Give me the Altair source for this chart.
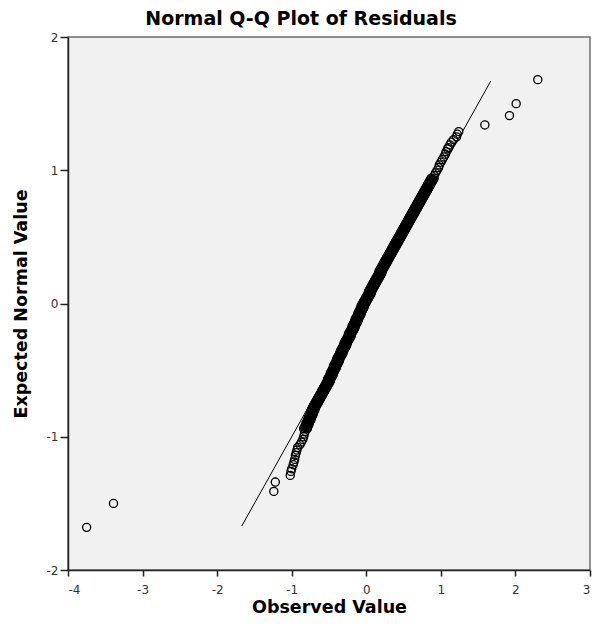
import altair as alt
import pandas as pd

# ---- values ----
# (observed residual value, expected normal value)

# isolated points at both ends
tail_low_obs = [-3.75, -3.39, -1.24, -1.22]
tail_low_exp = [-1.68, -1.50, -1.41, -1.34]
tail_high_obs = [1.59, 1.92, 2.01, 2.30]
tail_high_exp = [1.34, 1.41, 1.50, 1.68]

# ring-textured lower run
lower_obs = [-1.02, -1.01, -1.00, -0.98, -0.97, -0.96, -0.95, -0.94, -0.93, -0.92,
             -0.89, -0.87, -0.85, -0.84, -0.83, -0.82]
lower_exp = [-1.29, -1.26, -1.24, -1.21, -1.19, -1.17, -1.14, -1.12, -1.10, -1.08,
             -1.06, -1.04, -1.02, -1.00, -0.98, -0.96]

# ring-textured upper run
upper_obs = [0.91, 0.93, 0.95, 0.97, 0.98, 1.00, 1.02, 1.04, 1.06, 1.07,
             1.09, 1.10, 1.12, 1.14, 1.17, 1.21, 1.22, 1.24]
upper_exp = [0.96, 0.98, 1.00, 1.02, 1.04, 1.06, 1.08, 1.10, 1.12, 1.14,
             1.16, 1.17, 1.19, 1.21, 1.23, 1.25, 1.27, 1.29]

# dense solid band: expected values, with observed values on its left and right edge
band_exp = [-0.94, -0.93, -0.92, -0.91, -0.90, -0.89, -0.88, -0.87, -0.86, -0.85,
            -0.84, -0.83, -0.82, -0.81, -0.80, -0.79, -0.78, -0.77, -0.76, -0.75,
            -0.74, -0.73, -0.72, -0.71, -0.70, -0.69, -0.68, -0.67, -0.66, -0.65,
            -0.64, -0.63, -0.62, -0.61, -0.60, -0.59, -0.58, -0.57, -0.56, -0.55,
            -0.54, -0.53, -0.52, -0.51, -0.50, -0.49, -0.48, -0.47, -0.46, -0.45,
            -0.44, -0.43, -0.42, -0.41, -0.40, -0.39, -0.38, -0.37, -0.36, -0.35,
            -0.34, -0.33, -0.32, -0.31, -0.30, -0.29, -0.28, -0.27, -0.26, -0.25,
            -0.24, -0.23, -0.22, -0.21, -0.20, -0.19, -0.18, -0.17, -0.16, -0.15,
            -0.14, -0.13, -0.12, -0.11, -0.10, -0.09, -0.08, -0.07, -0.06, -0.05,
            -0.04, -0.03, -0.02, -0.01, 0.00, 0.01, 0.02, 0.03, 0.04, 0.05,
            0.06, 0.07, 0.08, 0.09, 0.10, 0.11, 0.12, 0.13, 0.14, 0.15,
            0.16, 0.17, 0.18, 0.19, 0.20, 0.21, 0.22, 0.23, 0.24, 0.25,
            0.26, 0.27, 0.28, 0.29, 0.30, 0.31, 0.32, 0.33, 0.34, 0.35,
            0.36, 0.37, 0.38, 0.39, 0.40, 0.41, 0.42, 0.43, 0.44, 0.45,
            0.46, 0.47, 0.48, 0.49, 0.50, 0.51, 0.52, 0.53, 0.54, 0.55,
            0.56, 0.57, 0.58, 0.59, 0.60, 0.61, 0.62, 0.63, 0.64, 0.65,
            0.66, 0.67, 0.68, 0.69, 0.70, 0.71, 0.72, 0.73, 0.74, 0.75,
            0.76, 0.77, 0.78, 0.79, 0.80, 0.81, 0.82, 0.83, 0.84, 0.85,
            0.86, 0.87, 0.88, 0.89, 0.90, 0.91, 0.92, 0.93, 0.94]
band_left_obs = [-0.84, -0.83, -0.82, -0.81, -0.81, -0.80, -0.79, -0.78, -0.78, -0.77,
                 -0.76, -0.75, -0.75, -0.74, -0.73, -0.73, -0.72, -0.71, -0.70, -0.69,
                 -0.68, -0.67, -0.66, -0.65, -0.64, -0.63, -0.62, -0.61, -0.60, -0.59,
                 -0.58, -0.57, -0.56, -0.55, -0.54, -0.53, -0.52, -0.52, -0.51, -0.50,
                 -0.49, -0.48, -0.48, -0.47, -0.46, -0.45, -0.44, -0.44, -0.43, -0.42,
                 -0.41, -0.40, -0.40, -0.39, -0.38, -0.37, -0.36, -0.35, -0.35, -0.34,
                 -0.33, -0.32, -0.31, -0.30, -0.30, -0.29, -0.28, -0.27, -0.26, -0.25,
                 -0.24, -0.24, -0.23, -0.22, -0.21, -0.20, -0.19, -0.19, -0.18, -0.17,
                 -0.16, -0.15, -0.15, -0.14, -0.13, -0.12, -0.11, -0.11, -0.10, -0.09,
                 -0.08, -0.07, -0.07, -0.06, -0.05, -0.04, -0.03, -0.02, -0.01, 0.00,
                 0.01, 0.02, 0.03, 0.03, 0.04, 0.05, 0.06, 0.07, 0.08, 0.09,
                 0.10, 0.11, 0.12, 0.13, 0.14, 0.15, 0.16, 0.17, 0.17, 0.18,
                 0.19, 0.20, 0.21, 0.22, 0.23, 0.24, 0.25, 0.26, 0.27, 0.28,
                 0.29, 0.30, 0.31, 0.32, 0.33, 0.34, 0.35, 0.36, 0.37, 0.38,
                 0.39, 0.40, 0.41, 0.42, 0.43, 0.44, 0.45, 0.46, 0.47, 0.48,
                 0.49, 0.50, 0.51, 0.52, 0.53, 0.54, 0.55, 0.56, 0.57, 0.58,
                 0.59, 0.60, 0.61, 0.62, 0.63, 0.64, 0.65, 0.66, 0.67, 0.68,
                 0.69, 0.70, 0.71, 0.72, 0.73, 0.74, 0.75, 0.76, 0.77, 0.78,
                 0.79, 0.80, 0.81, 0.82, 0.83, 0.84, 0.85, 0.86, 0.87]
band_right_obs = [-0.79, -0.79, -0.78, -0.77, -0.77, -0.76, -0.75, -0.74, -0.74, -0.73,
                  -0.72, -0.71, -0.71, -0.70, -0.69, -0.69, -0.68, -0.67, -0.66, -0.65,
                  -0.64, -0.63, -0.62, -0.61, -0.60, -0.59, -0.58, -0.57, -0.56, -0.55,
                  -0.54, -0.53, -0.52, -0.51, -0.50, -0.49, -0.48, -0.48, -0.47, -0.46,
                  -0.45, -0.44, -0.44, -0.43, -0.42, -0.41, -0.40, -0.40, -0.39, -0.38,
                  -0.37, -0.36, -0.36, -0.35, -0.34, -0.33, -0.32, -0.31, -0.31, -0.30,
                  -0.29, -0.28, -0.27, -0.26, -0.26, -0.25, -0.24, -0.23, -0.22, -0.21,
                  -0.20, -0.20, -0.19, -0.18, -0.17, -0.16, -0.15, -0.15, -0.14, -0.13,
                  -0.12, -0.11, -0.11, -0.10, -0.09, -0.08, -0.07, -0.07, -0.06, -0.05,
                  -0.04, -0.03, -0.03, -0.02, -0.01, 0.00, 0.01, 0.02, 0.03, 0.04,
                  0.05, 0.06, 0.07, 0.07, 0.08, 0.09, 0.10, 0.11, 0.12, 0.13,
                  0.14, 0.15, 0.16, 0.17, 0.18, 0.19, 0.20, 0.21, 0.21, 0.22,
                  0.23, 0.24, 0.25, 0.26, 0.27, 0.28, 0.29, 0.30, 0.31, 0.32,
                  0.33, 0.34, 0.35, 0.36, 0.37, 0.38, 0.39, 0.40, 0.41, 0.42,
                  0.43, 0.44, 0.45, 0.46, 0.47, 0.48, 0.49, 0.50, 0.51, 0.52,
                  0.53, 0.54, 0.55, 0.56, 0.57, 0.58, 0.59, 0.60, 0.61, 0.62,
                  0.63, 0.64, 0.65, 0.66, 0.67, 0.68, 0.69, 0.70, 0.71, 0.72,
                  0.73, 0.74, 0.75, 0.76, 0.77, 0.78, 0.79, 0.80, 0.81, 0.82,
                  0.83, 0.84, 0.85, 0.86, 0.87, 0.88, 0.89, 0.90, 0.91]

# reference line end points
ref_obs = [-1.67, 1.67]
ref_exp = [-1.67, 1.67]

x_ticks = [-4, -3, -2, -1, 0, 1, 2, 3]
y_ticks = [-2, -1, 0, 1, 2]

observed = (tail_low_obs + lower_obs + band_left_obs + band_right_obs
            + upper_obs + tail_high_obs)
expected = (tail_low_exp + lower_exp + band_exp + band_exp
            + upper_exp + tail_high_exp)

df = pd.DataFrame({"observed": observed, "expected": expected})
ref_df = pd.DataFrame({"observed": ref_obs, "expected": ref_exp})

FONT = "DejaVu Sans"

x_enc = alt.X(
    "observed:Q",
    title="Observed Value",
    scale=alt.Scale(domain=[-4, 3], nice=False, zero=False),
    axis=alt.Axis(values=x_ticks, labelExpr="'' + datum.value", titleY=37,
                  titleBaseline="middle"),
)
y_enc = alt.Y(
    "expected:Q",
    title="Expected Normal Value",
    scale=alt.Scale(domain=[-2, 2], nice=False, zero=False),
    axis=alt.Axis(values=y_ticks, labelExpr="'' + datum.value", titleX=-47,
                  titleBaseline="middle"),
)

line = alt.Chart(ref_df).mark_line(color="black", strokeWidth=1).encode(x=x_enc, y=y_enc)

points = alt.Chart(df).mark_point(
    shape="circle", filled=False, color="black", size=66, strokeWidth=1.3, opacity=1
).encode(x=x_enc, y=y_enc)

chart = (
    alt.layer(line, points)
    .properties(
        width=522,
        height=533,
        autosize=alt.AutoSizeParams(type="none"),
        padding={"left": 60, "top": 29, "right": 5, "bottom": 49},
        title=alt.TitleParams(
            "Normal Q-Q Plot of Residuals",
            font=FONT,
            fontSize=19,
            fontWeight="bold",
            color="black",
            anchor="middle",
            dx=-28,
            offset=2,
        ),
    )
    .configure_view(fill="#f1f1f1", stroke="#6e6e6e", strokeWidth=1.5)
    .configure_axis(
        grid=False,
        domainColor="#222222",
        domainWidth=1.5,
        tickColor="#222222",
        tickWidth=1.5,
        labelFont=FONT,
        labelFontSize=12,
        labelColor="#333333",
        titleFont=FONT,
        titleFontSize=17.5,
        titleFontWeight="bold",
        titleColor="black",
    )
    .configure_axisX(tickSize=6, labelPadding=8)
    .configure_axisY(tickSize=8, labelPadding=2)
)

chart.save("out.html", embed_options={"renderer": "svg", "actions": False})
